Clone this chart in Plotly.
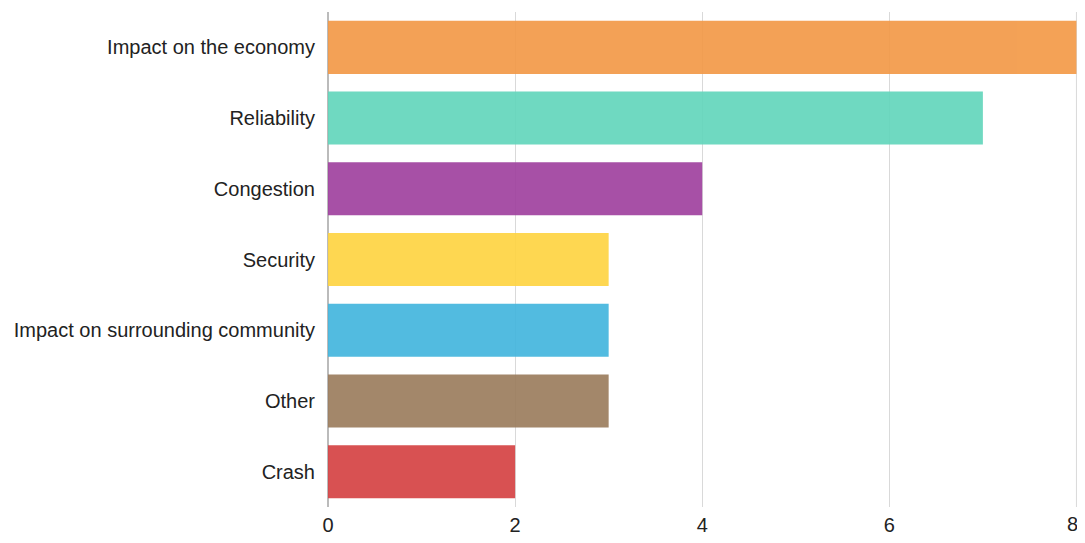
import plotly.graph_objects as go

categories = ["Impact on the economy", "Reliability", "Congestion", "Security",
              "Impact on surrounding community", "Other", "Crash"]
values = [8, 7, 4, 3, 3, 3, 2]
colors = ["#F39A48", "#63D6BC", "#A0429F", "#FED443", "#44B6DE", "#9C7D5E", "#D54344"]
x_ticks = [0, 2, 4, 6, 8]
x_ticktext = [str(v) for v in x_ticks]

fig = go.Figure(go.Bar(
    x=values, y=categories, orientation="h",
    marker=dict(color=colors, line=dict(width=0)), opacity=0.92,
    width=0.75,
))
# page body has an 8px margin; figure sized to fit inside the 1085x543 window
fig.update_layout(
    width=1077, height=527,
    margin=dict(l=320, r=8, t=4, b=28, autoexpand=False),
    plot_bgcolor="white", paper_bgcolor="white",
    showlegend=False,
    font=dict(family="Liberation Sans, Arial, sans-serif", size=20, color="#222"),
)
# last tick label drawn as an annotation, nudged inwards so it is not clipped
fig.update_xaxes(range=[0, 8.006], tickvals=x_ticks[:-1], ticktext=x_ticktext[:-1],
                 showgrid=True, gridcolor="#d9d9d9",
                 gridwidth=1, zeroline=True, zerolinecolor="#bbbbbb", zerolinewidth=2,
                 ticklabelstandoff=4, automargin=False, fixedrange=True)
fig.add_vline(x=x_ticks[-1], line=dict(color="#d9d9d9", width=1), layer="below")
fig.add_annotation(x=x_ticks[-1], y=0, xref="x", yref="paper", text=x_ticktext[-1],
                   showarrow=False, xanchor="right", yanchor="top", xshift=4, yshift=-4,
                   font=dict(size=20, color="#222"))
fig.update_yaxes(categoryorder="array", categoryarray=categories[::-1],
                 ticklabelstandoff=12, showgrid=False, automargin=False)
fig.write_html("out.html")
